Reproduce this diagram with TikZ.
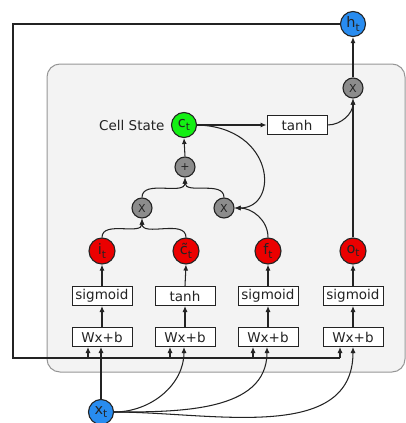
\documentclass[tikz,border=0pt]{standalone}
\usepackage{fontspec}
\setmainfont{DejaVu Sans}
\usetikzlibrary{arrows.meta}
\newcommand{\mysubt}{\raisebox{-0.45ex}{\fontsize{10.5}{10.5}\selectfont t}}
\definecolor{opgray}{RGB}{140,140,140}
\definecolor{gatered}{RGB}{235,0,0}
\definecolor{cellgreen}{RGB}{20,240,20}
\definecolor{iofblue}{RGB}{40,140,240}
\definecolor{panel}{RGB}{243,243,243}
\definecolor{panelline}{RGB}{150,150,150}
\definecolor{ink}{RGB}{35,35,35}
\begin{document}
\begin{tikzpicture}[x=1pt,y=-1pt,
  every node/.style={text=ink},
  circ/.style={circle,draw=ink,line width=1.1pt,inner sep=0pt},
  opnode/.style={circ,fill=opgray,minimum size=20pt,font=\fontsize{11}{11}\selectfont},
  gatenode/.style={circ,fill=gatered,minimum size=26pt,font=\fontsize{14.5}{14.5}\selectfont},
  ionode/.style={circ,fill=iofblue,minimum size=25pt,font=\fontsize{14.5}{14.5}\selectfont},
  cellnode/.style={circ,fill=cellgreen,minimum size=25pt,font=\fontsize{14.5}{14.5}\selectfont},
  fbox/.style={draw=ink,line width=1pt,fill=white,minimum width=60pt,minimum height=19pt,inner sep=0pt,font=\fontsize{13.5}{13.5}\selectfont},
  conn/.style={draw=ink,line width=1.05pt},
  arr/.style={conn,-{Latex[length=6pt,width=5pt]}}
]
\useasboundingbox (0,0) rectangle (406,423);
% panel behind the cell
\draw[fill=panel,draw=panelline,line width=1pt,rounded corners=13pt] (47,64) rectangle (405,372);

% nodes
\node[ionode] (h) at (353,24) {h\mysubt};
\node[opnode] (xh) at (353,88) {X};
\node[cellnode] (ct) at (184,125) {c\mysubt};
\node[anchor=east,font=\fontsize{13.5}{13.5}\selectfont] (lbl) at (168,125) {Cell State};
\node[fbox] (tc) at (297,125) {tanh};
\node[opnode] (plus) at (185,167) {+};
\node[opnode] (m1) at (142,208) {X};
\node[opnode] (m2) at (224,208) {X};
\node[gatenode] (it) at (102,251) {i\mysubt};
\node[gatenode] (ctil) at (186,251) {c̃\mysubt};
\node[gatenode] (ft) at (268,251) {f\mysubt};
\node[gatenode] (ot) at (353,251) {o\mysubt};
\node[fbox] (s1) at (102,296) {sigmoid};
\node[fbox] (s2) at (185,296) {tanh};
\node[fbox] (s3) at (268,296) {sigmoid};
\node[fbox] (s4) at (353,296) {sigmoid};
\node[fbox] (w1) at (102,337) {Wx+b};
\node[fbox] (w2) at (185,337) {Wx+b};
\node[fbox] (w3) at (268,337) {Wx+b};
\node[fbox] (w4) at (353,337) {Wx+b};
\node[ionode] (xt) at (101,412) {x\mysubt};

% feedback of h_t into every affine box
\coordinate (fa) at (13,24);
\coordinate (fb) at (13,358);
\coordinate (f1) at (88,358);
\coordinate (f2) at (170,358);
\coordinate (f3) at (253,358);
\coordinate (f4) at (340,358);
\draw[conn,line width=1.4pt] (h.west) -- (fa) -- (fb) -- (f4);
\draw[arr] (f1) -- (f1 |- w1.south);
\draw[arr] (f2) -- (f2 |- w2.south);
\draw[arr] (f3) -- (f3 |- w3.south);
\draw[arr] (f4) -- (f4 |- w4.south);

% input x_t
\draw[arr] (xt.north) -- (xt.north |- w1.south);
\draw[arr] (xt.east) to[out=0,in=-90] ([xshift=-1pt]w2.south);
\draw[arr] (xt.east) to[out=0,in=-90] ([xshift=-1pt]w3.south);
\draw[arr] (xt.east) to[out=0,in=-90] (w4.south);

% affine -> activation -> gate
\foreach \w/\s/\g in {w1/s1/it,w2/s2/ctil,w3/s3/ft,w4/s4/ot}{
  \draw[arr] (\w.north) -- (\s.south);
  \draw[arr] (\s.north) -- (\g.south);
}

% cell update
\draw[arr] (it.north) to[out=90,in=-90] (m1.south);
\draw[arr] (ctil.north) to[out=90,in=-90] (m1.south);
\draw[arr] (ft.north) to[out=90,in=0] (m2.east);
\draw[arr] (ct.east) .. controls (275,127) and (280,208) .. (m2.east);
\draw[arr] (m1.north) to[out=90,in=-90] (plus.south);
\draw[arr] (m2.north) to[out=90,in=-90] (plus.south);
\draw[arr] (plus.north) -- (ct.south);

% output
\draw[arr] (ct.east) -- (tc.west);
\draw[arr] (tc.east) to[out=0,in=-90] (xh.south);
\draw[arr] (ot.north) -- (xh.south);
\draw[arr] (xh.north) -- (h.south);
\end{tikzpicture}
\end{document}
